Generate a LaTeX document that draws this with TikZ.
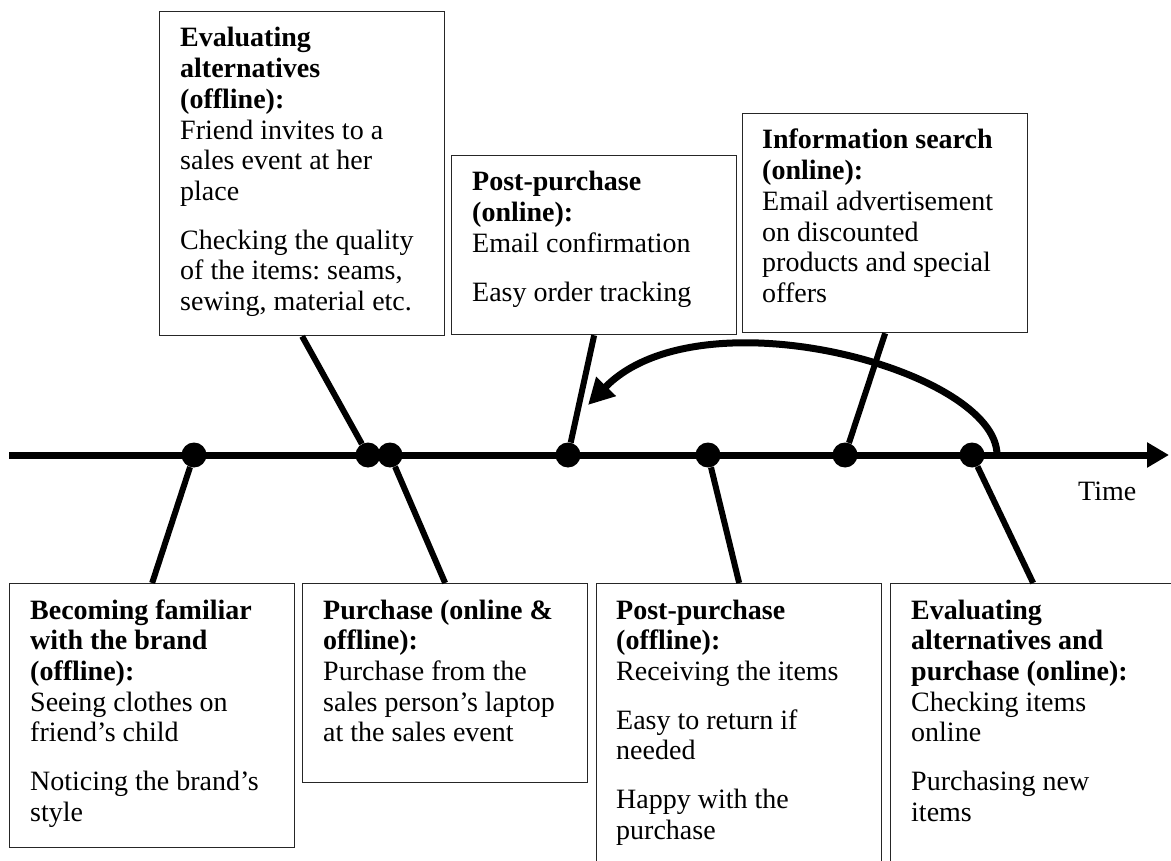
\documentclass[tikz,border=0pt]{standalone}
\usepackage{fontspec}
\setmainfont{Liberation Serif}
\usetikzlibrary{arrows.meta}
\frenchspacing
\begin{document}
\begin{tikzpicture}[x=1pt,y=-1pt,
  stage/.style={draw=black!85,line width=1.3pt,anchor=north west,inner sep=0pt,minimum width=285pt},
  stagetext/.style={anchor=base west,inner sep=0pt,text width=280pt,align=flush left,
    font=\fontsize{28}{30.7}\selectfont\frenchspacing},
  event/.style={circle,fill=black,inner sep=0pt,minimum size=25pt},
  link/.style={line width=6pt},
  timeline/.style={line width=7pt,-{Triangle[length=22pt,width=24pt]}},
  backarrow/.style={line width=7pt,-{Triangle[length=26pt,width=26pt]}}]
\useasboundingbox (0,0) rectangle (1171,861);
\clip (0,0) rectangle (1171,861);

% time axis
\coordinate (t0) at (9,455);
\coordinate (t1) at (1169,455);
\draw[timeline] (t0) -- (t1);
\node[anchor=base west,inner sep=0pt,font=\fontsize{28}{30.7}\selectfont] (timelabel) at (1078,500) {Time};

% loop back from the repeat purchase to the online post-purchase step
\coordinate (loopstart) at (997,455);
\coordinate (loopend) at (588,405);
\draw[backarrow] (loopstart) .. controls (997,370) and (700,290) .. (loopend);

% events on the axis
\node[event] (d1) at (194,455) {};
\node[event] (d2) at (368,455) {};
\node[event] (d3) at (390,455) {};
\node[event] (d4) at (568,455) {};
\node[event] (d5) at (708,455) {};
\node[event] (d6) at (845,455) {};
\node[event] (d7) at (972,455) {};

% stage boxes above the axis
\node[stage,minimum height=324pt] (b1) at (159,11) {};
\node[stagetext] at ([xshift=21pt,yshift=-36pt]b1.north west)
  {\textbf{Evaluating}\\\textbf{alternatives}\\\textbf{(offline):}\\Friend invites to a\\sales event at her\\place\\[18pt]Checking the quality\\of the items: seams,\\sewing, material etc.};

\node[stage,minimum height=179pt] (b2) at (451,155) {};
\node[stagetext] at ([xshift=21pt,yshift=-36pt]b2.north west)
  {\textbf{Post-purchase}\\\textbf{(online):}\\Email confirmation\\[18pt]Easy order tracking};

\node[stage,minimum height=219pt] (b3) at (742,113) {};
\node[stagetext] at ([xshift=20pt,yshift=-36pt]b3.north west)
  {\textbf{Information search}\\\textbf{(online):}\\Email advertisement\\on discounted\\products and special\\offers};

% stage boxes below the axis
\node[stage,minimum height=264pt] (b4) at (9,583) {};
\node[stagetext] at ([xshift=21pt,yshift=-36pt]b4.north west)
  {\textbf{Becoming familiar}\\\textbf{with the brand}\\\textbf{(offline):}\\Seeing clothes on\\friend’s child\\[18pt]Noticing the brand’s\\style};

\node[stage,minimum height=199pt] (b5) at (302,583) {};
\node[stagetext] at ([xshift=21pt,yshift=-36pt]b5.north west)
  {\textbf{Purchase (online \&}\\\textbf{offline):}\\Purchase from the\\sales person’s laptop\\at the sales event};

\node[stage,minimum height=300pt] (b6) at (596,583) {};
\node[stagetext] at ([xshift=20pt,yshift=-36pt]b6.north west)
  {\textbf{Post-purchase}\\\textbf{(offline):}\\Receiving the items\\[18pt]Easy to return if\\needed\\[18pt]Happy with the\\purchase};

\node[stage,minimum height=300pt] (b7) at (890,583) {};
\node[stagetext] at ([xshift=21pt,yshift=-36pt]b7.north west)
  {\textbf{Evaluating}\\\textbf{alternatives and}\\\textbf{purchase (online):}\\Checking items\\online\\[18pt]Purchasing new\\items};

% connectors from boxes to their events
\draw[link] (b1.south) -- (d2);
\draw[link] (b2.south) -- (d4);
\draw[link] (b3.south) -- (d6);
\draw[link] (b4.north) -- (d1);
\draw[link] (b5.north) -- (d3);
\draw[link] (b6.north) -- (d5);
\draw[link] (b7.north) -- (d7);
\end{tikzpicture}
\end{document}
